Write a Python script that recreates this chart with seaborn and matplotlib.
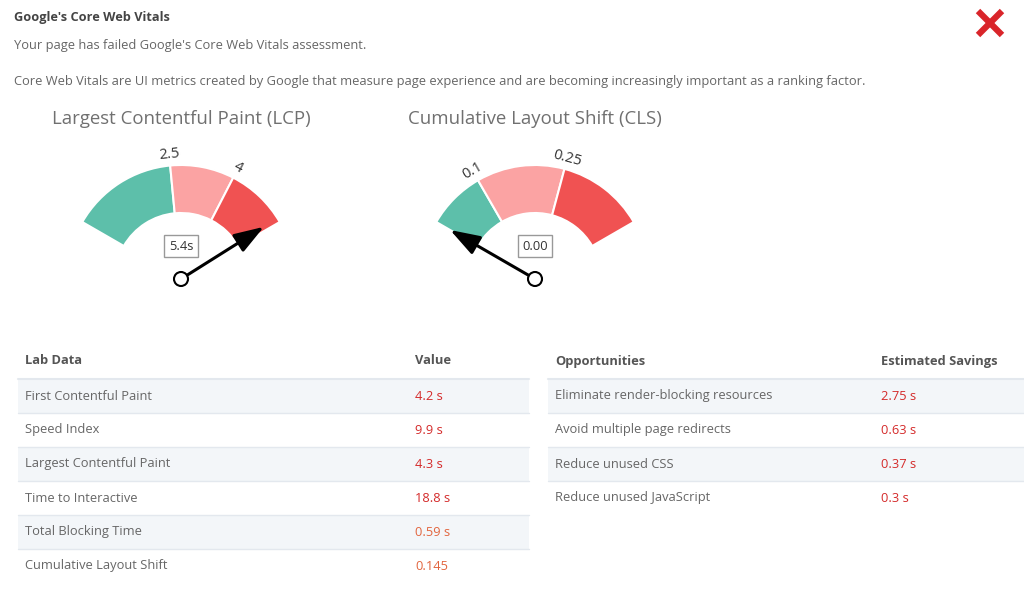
import numpy as np
import matplotlib
matplotlib.use("Agg")
import matplotlib.pyplot as plt
from matplotlib.patches import Wedge, Circle, Rectangle
import seaborn as sns

# --- data ---
lcp_thresholds = [2.5, 4]
lcp_max = 5.5
lcp_value = 5.4
lcp_label = "5.4s"

cls_thresholds = [0.1, 0.25]
cls_max = 0.4
cls_value = 0.0
cls_label = "0.00"

lab_metrics = ["First Contentful Paint", "Speed Index", "Largest Contentful Paint",
               "Time to Interactive", "Total Blocking Time", "Cumulative Layout Shift"]
lab_values = ["4.2 s", "9.9 s", "4.3 s", "18.8 s", "0.59 s", "0.145"]
lab_status = ["poor", "poor", "poor", "poor", "average", "average"]

opportunities = ["Eliminate render-blocking resources", "Avoid multiple page redirects",
                 "Reduce unused CSS", "Reduce unused JavaScript"]
savings = ["2.75 s", "0.63 s", "0.37 s", "0.3 s"]
savings_status = ["poor", "poor", "poor", "poor"]

# --- style ---
sns.set_theme(style="white")
plt.rcParams['font.family'] = ['Open Sans', 'DejaVu Sans']

zone_colors = sns.color_palette(["#5dbfaa", "#fba3a3", "#f05252"])
status_colors = {"poor": "#d42a2a", "average": "#e2653e"}
txt = "#666666"
fs = 9.3
W, H = 1024, 592

fig = plt.figure(figsize=(W / 100, H / 100), dpi=100)
bg = fig.add_axes([0, 0, 1, 1])
bg.set_xlim(0, W)
bg.set_ylim(H, 0)
bg.axis("off")

# header
bg.text(14, 18, "Google's Core Web Vitals", fontsize=9.2, fontweight="bold", color="#444444", va="center")
bg.text(14, 45, "Your page has failed Google's Core Web Vitals assessment.", fontsize=fs, color=txt, va="center")
bg.text(14, 81, "Core Web Vitals are UI metrics created by Google that measure page experience "
        "and are becoming increasingly important as a ranking factor.", fontsize=fs, color=txt, va="center")

# fail mark
bg.plot([978, 1002], [11, 35], color="#d9252a", lw=4.5, solid_capstyle="butt")
bg.plot([978, 1002], [35, 11], color="#d9252a", lw=4.5, solid_capstyle="butt")


def gauge(cx, title, thresholds, vmax, value, label):
    # axes centred on the needle pivot, pixel-sized units
    ax = fig.add_axes([(cx - 130) / W, (H - 320) / H, 260 / W, 220 / H])
    ax.set_xlim(-130, 130)
    ax.set_ylim(-41, 179)
    ax.axis("off")
    a0, a1 = 150, 30

    def ang(v):
        return a0 - (a0 - a1) * min(v, vmax) / vmax

    bounds = [0] + list(thresholds) + [vmax]
    for i in range(3):
        ax.add_patch(Wedge((0, 0), 114, ang(bounds[i + 1]), ang(bounds[i]), width=48,
                           facecolor=zone_colors[i], edgecolor="white", lw=1.5))
    for t in thresholds:
        a = np.radians(ang(t))
        ax.text(125 * np.cos(a), 125 * np.sin(a), f"{t:g}", fontsize=10.5, color="#333333",
                ha="center", va="center", rotation=ang(t) - 90, rotation_mode="anchor")
    a = np.radians(ang(value))
    ax.annotate("", xy=(98 * np.cos(a), 98 * np.sin(a)),
                xytext=(7 * np.cos(a), 7 * np.sin(a)),
                arrowprops=dict(arrowstyle="-|>,head_length=0.65,head_width=0.22", color="black",
                                lw=2.2, mutation_scale=28, shrinkA=0, shrinkB=0))
    ax.add_patch(Circle((0, 0), 7, facecolor="white", edgecolor="black", lw=1.5, zorder=5))
    ax.text(0, 33, label, fontsize=fs, color="#333333", ha="center", va="center",
            bbox=dict(boxstyle="square,pad=0.35", fc="white", ec="#999999", lw=1))
    ax.text(0, 160, title, fontsize=13.4, color="#707070", ha="center", va="center")


gauge(181, "Largest Contentful Paint (LCP)", lcp_thresholds, lcp_max, lcp_value, lcp_label)
gauge(535, "Cumulative Layout Shift (CLS)", cls_thresholds, cls_max, cls_value, cls_label)


def table(x0, x1, col2, heads, names, values, status):
    bg.text(x0 + 7, 361, heads[0], fontsize=fs, fontweight="bold", color="#555555", va="center")
    bg.text(col2, 361, heads[1], fontsize=fs, fontweight="bold", color="#555555", va="center")
    for i, (n, v, s) in enumerate(zip(names, values, status)):
        y0 = 379 + 34 * i
        if i % 2 == 0:
            bg.add_patch(Rectangle((x0, y0), x1 - x0, 34, facecolor="#f3f6f9", edgecolor="none"))
        bg.plot([x0, x1], [y0, y0], color="#e3e8ee", lw=1.5 if i == 0 else 1)
        bg.text(x0 + 7, y0 + 17, n, fontsize=fs, color=txt, va="center")
        bg.text(col2, y0 + 17, v, fontsize=fs, color=status_colors[s], va="center")


table(18, 529, 415, ["Lab Data", "Value"], lab_metrics, lab_values, lab_status)
table(548, 1024, 881, ["Opportunities", "Estimated Savings"], opportunities, savings, savings_status)

fig.savefig("out.png", dpi=100, facecolor="white")
